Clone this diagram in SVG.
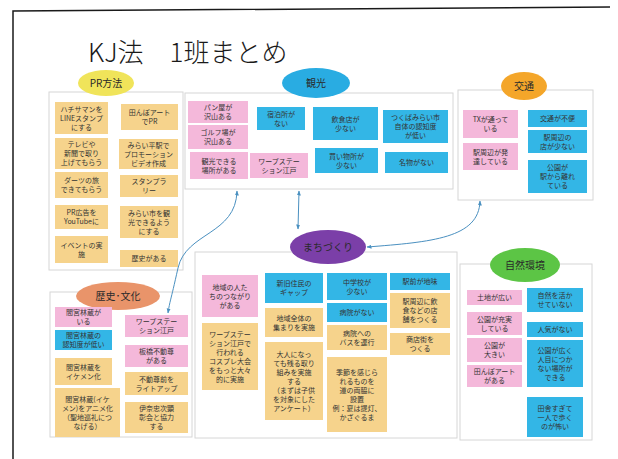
<svg xmlns="http://www.w3.org/2000/svg" width="618" height="459" viewBox="0 0 618 459">
<defs>
<style>
.grp{fill:#ffffff;stroke:#d6d6d6;stroke-width:1}
.tan{fill:#f6d38c}
.pink{fill:#f4b8da}
.blue{fill:#33b6e6}
.nt{font-family:"Noto Sans CJK JP","Noto Sans",sans-serif;font-size:7px;fill:#333333;text-anchor:middle}
.lb{font-family:"Noto Sans CJK JP","Noto Sans",sans-serif;font-size:10px;fill:#2a2a2a;text-anchor:middle}
.con{fill:none;stroke:#4a90c0;stroke-width:1}
</style>
<marker id="ah" viewBox="0 0 10 10" refX="9" refY="5" markerWidth="5" markerHeight="5" orient="auto-start-reverse">
<path d="M0,1 L10,5 L0,9 z" fill="#4a90c0"/>
</marker>
</defs>
<rect width="618" height="459" fill="#ffffff"/>
<path d="M13,459 L13,11 L610,7" fill="none" stroke="#1a1a1a" stroke-width="1.5"/>
<text x="88" y="62" font-family="'Noto Sans CJK JP','Noto Sans',sans-serif" font-size="26" font-weight="300" fill="#1a1a1a">KJ法　1班まとめ</text>

<g id="pr">
<rect class="grp" x="49" y="92" width="134" height="178"/>
<ellipse cx="106" cy="83" rx="28" ry="13" fill="#f0e45a"/>
<text class="lb" x="106" y="87" font-size="9">PR方法</text>
<rect class="tan" x="55" y="102" width="53" height="32"/>
<text class="nt" y="111.5"><tspan x="81.5">ハチサマンを</tspan><tspan x="81.5" dy="9">LINEスタンプ</tspan><tspan x="81.5" dy="9">にする</tspan></text>
<rect class="tan" x="55" y="138" width="53" height="31"/>
<text class="nt" y="147"><tspan x="81.5">テレビや</tspan><tspan x="81.5" dy="9">新聞で取り</tspan><tspan x="81.5" dy="9">上げてもらう</tspan></text>
<rect class="tan" x="55" y="172" width="53" height="26"/>
<text class="nt" y="183"><tspan x="81.5">ダーツの旅</tspan><tspan x="81.5" dy="9">できてもらう</tspan></text>
<rect class="tan" x="55" y="205" width="53" height="24"/>
<text class="nt" y="215"><tspan x="81.5">PR広告を</tspan><tspan x="81.5" dy="9">YouTubeに</tspan></text>
<rect class="tan" x="55" y="236" width="53" height="27"/>
<text class="nt" y="247.5"><tspan x="81.5">イベントの実</tspan><tspan x="81.5" dy="9">施</tspan></text>
<rect class="tan" x="121" y="104" width="57" height="26"/>
<text class="nt" y="115"><tspan x="149.5">田んぼアート</tspan><tspan x="149.5" dy="9">でPR</tspan></text>
<rect class="tan" x="119" y="139" width="59" height="30"/>
<text class="nt" y="147.5"><tspan x="148.5">みらい平駅で</tspan><tspan x="148.5" dy="9">プロモーション</tspan><tspan x="148.5" dy="9">ビデオ作成</tspan></text>
<rect class="tan" x="120" y="175" width="58" height="22"/>
<text class="nt" y="184"><tspan x="149">スタンプラ</tspan><tspan x="149" dy="9">リー</tspan></text>
<rect class="tan" x="120" y="206" width="58" height="32"/>
<text class="nt" y="215.5"><tspan x="149">みらい市を観</tspan><tspan x="149" dy="9">光できるよう</tspan><tspan x="149" dy="9">にする</tspan></text>
<rect class="tan" x="120" y="250" width="58" height="17"/>
<text class="nt" x="149" y="261">歴史がある</text>
</g>

<g id="kanko">
<rect class="grp" x="185" y="93" width="268" height="96"/>
<ellipse cx="316" cy="83" rx="34" ry="15" fill="#29ace2"/>
<text class="lb" x="316" y="87">観光</text>
<rect class="pink" x="188" y="101" width="60" height="22"/>
<text class="nt" y="110"><tspan x="218">パン屋が</tspan><tspan x="218" dy="9">沢山ある</tspan></text>
<rect class="pink" x="188" y="125" width="60" height="24"/>
<text class="nt" y="135"><tspan x="218">ゴルフ場が</tspan><tspan x="218" dy="9">沢山ある</tspan></text>
<rect class="pink" x="190" y="152" width="58" height="27"/>
<text class="nt" y="163.5"><tspan x="219">観光できる</tspan><tspan x="219" dy="9">場所がある</tspan></text>
<rect class="blue" x="257" y="107" width="48" height="23"/>
<text class="nt" y="116.5"><tspan x="281">宿泊所が</tspan><tspan x="281" dy="9">ない</tspan></text>
<rect class="pink" x="250" y="153" width="58" height="25"/>
<text class="nt" y="163.5"><tspan x="279">ワープステー</tspan><tspan x="279" dy="9">ション江戸</tspan></text>
<rect class="blue" x="313" y="107" width="65" height="33"/>
<text class="nt" y="121.5"><tspan x="345.5">飲食店が</tspan><tspan x="345.5" dy="9">少ない</tspan></text>
<rect class="blue" x="315" y="148" width="63" height="25"/>
<text class="nt" y="158.5"><tspan x="346.5">買い物所が</tspan><tspan x="346.5" dy="9">少ない</tspan></text>
<rect class="blue" x="383" y="110" width="65" height="33"/>
<text class="nt" y="120"><tspan x="415.5">つくばみらい市</tspan><tspan x="415.5" dy="9">自体の認知度</tspan><tspan x="415.5" dy="9">が低い</tspan></text>
<rect class="blue" x="385" y="152" width="63" height="21"/>
<text class="nt" x="416.5" y="165">名物がない</text>
</g>

<g id="kotsu">
<rect class="grp" x="458" y="90" width="135" height="110"/>
<ellipse cx="524" cy="86" rx="23" ry="14" fill="#f4a62a"/>
<text class="lb" x="524" y="90" font-size="9">交通</text>
<rect class="pink" x="463" y="110" width="55" height="28"/>
<text class="nt" y="122"><tspan x="490.5">TXが通って</tspan><tspan x="490.5" dy="9">いる</tspan></text>
<rect class="pink" x="463" y="143" width="55" height="27"/>
<text class="nt" y="154.5"><tspan x="490.5">駅周辺が発</tspan><tspan x="490.5" dy="9">達している</tspan></text>
<rect class="blue" x="528" y="110" width="59" height="17"/>
<text class="nt" x="557.5" y="121">交通が不便</text>
<rect class="blue" x="528" y="130" width="59" height="23"/>
<text class="nt" y="139.5"><tspan x="557.5">駅周辺の</tspan><tspan x="557.5" dy="9">店が少ない</tspan></text>
<rect class="blue" x="528" y="160" width="59" height="33"/>
<text class="nt" y="170"><tspan x="557.5">公園が</tspan><tspan x="557.5" dy="9">駅から離れ</tspan><tspan x="557.5" dy="9">ている</tspan></text>
</g>

<g id="machi">
<rect class="grp" x="195" y="252" width="262" height="186"/>
<ellipse cx="328" cy="247" rx="38" ry="17" fill="#7b3fa8"/>
<text class="lb" x="328" y="251" font-size="9">まちづくり</text>
<rect class="pink" x="202" y="275" width="56" height="42"/>
<text class="nt" y="289.5"><tspan x="230">地域の人た</tspan><tspan x="230" dy="9">ちのつながり</tspan><tspan x="230" dy="9">がある</tspan></text>
<rect class="tan" x="202" y="323" width="56" height="67"/>
<text class="nt" y="336.5"><tspan x="230">ワープステー</tspan><tspan x="230" dy="9">ション江戸で</tspan><tspan x="230" dy="9">行われる</tspan><tspan x="230" dy="9">コスプレ大会</tspan><tspan x="230" dy="9">をもっと大々</tspan><tspan x="230" dy="9">的に実施</tspan></text>
<rect class="blue" x="265" y="273" width="58" height="30"/>
<text class="nt" y="286"><tspan x="294">新旧住民の</tspan><tspan x="294" dy="9">ギャップ</tspan></text>
<rect class="tan" x="265" y="308" width="58" height="29"/>
<text class="nt" y="320.5"><tspan x="294">地域全体の</tspan><tspan x="294" dy="9">集まりを実施</tspan></text>
<rect class="tan" x="265" y="342" width="58" height="78"/>
<text class="nt" y="356.5"><tspan x="294">大人になっ</tspan><tspan x="294" dy="9">ても残る取り</tspan><tspan x="294" dy="9">組みを実施</tspan><tspan x="294" dy="9">する</tspan><tspan x="294" dy="9">（まずは子供</tspan><tspan x="294" dy="9">を対象にした</tspan><tspan x="294" dy="9">アンケート）</tspan></text>
<rect class="blue" x="327" y="273" width="60" height="27"/>
<text class="nt" y="284.5"><tspan x="357">中学校が</tspan><tspan x="357" dy="9">少ない</tspan></text>
<rect class="blue" x="327" y="303" width="60" height="19"/>
<text class="nt" x="357" y="315">病院がない</text>
<rect class="tan" x="327" y="325" width="60" height="25"/>
<text class="nt" y="335.5"><tspan x="357">病院への</tspan><tspan x="357" dy="9">バスを運行</tspan></text>
<rect class="tan" x="327" y="357" width="60" height="75"/>
<text class="nt" y="374.5"><tspan x="357">季節を感じら</tspan><tspan x="357" dy="9">れるものを</tspan><tspan x="357" dy="9">道の両脇に</tspan><tspan x="357" dy="9">設置</tspan><tspan x="357" dy="9">例：夏は提灯、</tspan><tspan x="357" dy="9">かざぐるま</tspan></text>
<rect class="blue" x="390" y="273" width="60" height="17"/>
<text class="nt" x="420" y="284">駅前が地味</text>
<rect class="tan" x="390" y="293" width="60" height="35"/>
<text class="nt" y="304"><tspan x="420">駅周辺に飲</tspan><tspan x="420" dy="9">食などの店</tspan><tspan x="420" dy="9">舗をつくる</tspan></text>
<rect class="tan" x="390" y="333" width="60" height="22"/>
<text class="nt" y="342"><tspan x="420">商店街を</tspan><tspan x="420" dy="9">つくる</tspan></text>
</g>

<g id="shizen">
<rect class="grp" x="460" y="264" width="132" height="176"/>
<ellipse cx="525" cy="265" rx="35" ry="17" fill="#5cc545"/>
<text class="lb" x="525" y="269" font-size="9">自然環境</text>
<rect class="pink" x="467" y="290" width="55" height="15"/>
<text class="nt" x="494.5" y="300">土地が広い</text>
<rect class="pink" x="467" y="312" width="55" height="23"/>
<text class="nt" y="321.5"><tspan x="494.5">公園が充実</tspan><tspan x="494.5" dy="9">している</tspan></text>
<rect class="pink" x="467" y="338" width="55" height="24"/>
<text class="nt" y="348"><tspan x="494.5">公園が</tspan><tspan x="494.5" dy="9">大きい</tspan></text>
<rect class="pink" x="467" y="365" width="55" height="22"/>
<text class="nt" y="374"><tspan x="494.5">田んぼアート</tspan><tspan x="494.5" dy="9">がある</tspan></text>
<rect class="blue" x="527" y="288" width="56" height="24"/>
<text class="nt" y="298"><tspan x="555">自然を活か</tspan><tspan x="555" dy="9">せていない</tspan></text>
<rect class="blue" x="527" y="322" width="56" height="15"/>
<text class="nt" x="555" y="332">人気がない</text>
<rect class="blue" x="527" y="340" width="56" height="47"/>
<text class="nt" y="352.5"><tspan x="555">公園が広く</tspan><tspan x="555" dy="9">人目につか</tspan><tspan x="555" dy="9">ない場所が</tspan><tspan x="555" dy="9">できる</tspan></text>
<rect class="blue" x="527" y="397" width="56" height="40"/>
<text class="nt" y="410.5"><tspan x="555">田舎すぎて</tspan><tspan x="555" dy="9">一人で歩く</tspan><tspan x="555" dy="9">のが怖い</tspan></text>
</g>

<g id="rekishi">
<rect class="grp" x="50" y="292" width="142" height="145"/>
<ellipse cx="118" cy="296" rx="42" ry="14" fill="#e9946a"/>
<text class="lb" x="118" y="300">歴史･文化</text>
<rect class="pink" x="55" y="307" width="57" height="20"/>
<text class="nt" y="315"><tspan x="83.5">間宮林蔵が</tspan><tspan x="83.5" dy="9">いる</tspan></text>
<rect class="blue" x="55" y="330" width="57" height="20"/>
<text class="nt" y="338"><tspan x="83.5">間宮林蔵の</tspan><tspan x="83.5" dy="9">認知度が低い</tspan></text>
<rect class="tan" x="55" y="358" width="57" height="27"/>
<text class="nt" y="369.5"><tspan x="83.5">間宮林蔵を</tspan><tspan x="83.5" dy="9">イケメン化</tspan></text>
<rect class="tan" x="55" y="388" width="65" height="49"/>
<text class="nt" y="401.5"><tspan x="87.5">間宮林蔵(イケ</tspan><tspan x="87.5" dy="9">メン)をアニメ化</tspan><tspan x="87.5" dy="9">（聖地巡礼につ</tspan><tspan x="87.5" dy="9">なげる）</tspan></text>
<rect class="pink" x="125" y="315" width="63" height="22"/>
<text class="nt" y="324"><tspan x="156.5">ワープステー</tspan><tspan x="156.5" dy="9">ション江戸</tspan></text>
<rect class="pink" x="125" y="345" width="63" height="22"/>
<text class="nt" y="354"><tspan x="156.5">板橋不動尊</tspan><tspan x="156.5" dy="9">がある</tspan></text>
<rect class="tan" x="125" y="372" width="63" height="23"/>
<text class="nt" y="381.5"><tspan x="156.5">不動尊前を</tspan><tspan x="156.5" dy="9">ライトアップ</tspan></text>
<rect class="tan" x="125" y="402" width="63" height="31"/>
<text class="nt" y="411"><tspan x="156.5">伊奈忠次顕</tspan><tspan x="156.5" dy="9">彰会と協力</tspan><tspan x="156.5" dy="9">する</tspan></text>
</g>

<g id="connectors">
<path class="con" d="M237,191 C236,235 186,232 178,268 S170,300 168,313" marker-start="url(#ah)" marker-end="url(#ah)"/>
<path class="con" d="M299,191 L298,229" marker-start="url(#ah)" marker-end="url(#ah)"/>
<path class="con" d="M480,201 C479,238 432,242 367,247" marker-start="url(#ah)" marker-end="url(#ah)"/>
</g>
</svg>
